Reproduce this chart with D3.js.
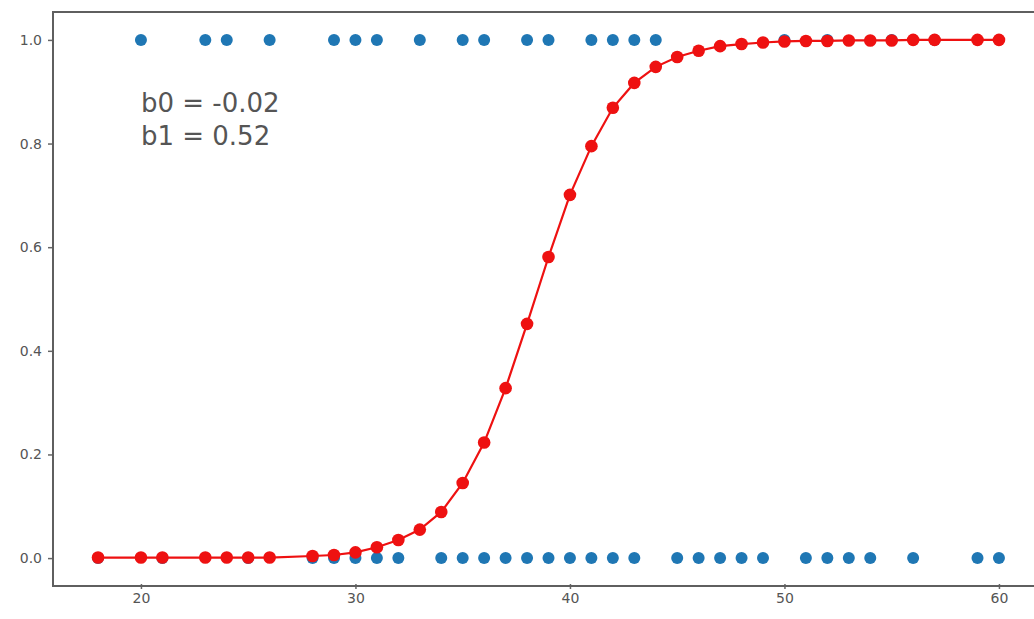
<!DOCTYPE html>
<meta charset="utf-8">
<style>
body { margin: 0; background: #fff; }
.axis path { display: none; }
.note { font-family: "DejaVu Sans", sans-serif; font-size: 26px; fill: #555; }
</style>
<svg width="1034" height="619"></svg>
<script src="https://d3js.org/d3.v7.min.js"></script>
<script>
// observed outcomes
var onesX = [20, 23, 24, 26, 29, 30, 31, 33, 35, 36, 38, 39, 41, 42, 43, 44, 50, 52, 55, 57];
var zerosX = [18, 21, 25, 28, 29, 30, 31, 32, 34, 35, 36, 37, 38, 39, 40, 41, 42, 43, 45, 46, 47, 48, 49, 51, 52, 53, 54, 56, 59, 60];

// fitted probabilities
var fitX = [18, 20, 21, 23, 24, 25, 26, 28, 29, 30, 31, 32, 33, 34, 35, 36, 37, 38, 39, 40,
            41, 42, 43, 44, 45, 46, 47, 48, 49, 50, 51, 52, 53, 54, 55, 56, 57, 59, 60];
var fitP = [0.001, 0.001, 0.001, 0.001, 0.001, 0.001, 0.001, 0.004, 0.006, 0.011, 0.021, 0.035, 0.055, 0.089, 0.145, 0.223, 0.328, 0.452, 0.581, 0.701,
            0.795, 0.869, 0.917, 0.948, 0.967, 0.979, 0.988, 0.992, 0.995, 0.997, 0.998, 0.998, 0.999, 0.999, 0.999, 1.0, 1.0, 1.0, 1.0];

var xTicks = [20, 30, 40, 50, 60];
var yTicks = [0, 0.2, 0.4, 0.6, 0.8, 1.0];
var noteLines = ["b0 = -0.02", "b1 = 0.52"];

var svg = d3.select("svg");
var mLeft = 53, mRight = 1044, mTop = 14, mBottom = 584;

var x = d3.scaleLinear().domain([15.9, 62.1]).range([mLeft, mRight]);
var y = d3.scaleLinear().domain([-0.05, 1.05]).range([mBottom, mTop]);

// axes
var xAxis = svg.append("g")
    .attr("class", "axis")
    .attr("transform", "translate(0," + mBottom + ")")
    .call(d3.axisBottom(x).tickValues(xTicks).tickSize(5).tickPadding(4).tickFormat(d3.format("d")));

var yAxis = svg.append("g")
    .attr("class", "axis")
    .attr("transform", "translate(" + mLeft + ",0)")
    .call(d3.axisLeft(y).tickValues(yTicks).tickSize(5).tickPadding(6).tickFormat(d3.format(".1f")));

[xAxis, yAxis].forEach(function(g) {
  g.attr("font-family", "DejaVu Sans, sans-serif").attr("font-size", 14);
  g.selectAll("text").attr("fill", "#555");
  g.selectAll("line").attr("stroke", "#666").attr("stroke-width", 1.5);
});

// blue scatter
var pts = onesX.map(function(d) { return {x: d, y: 1}; })
    .concat(zerosX.map(function(d) { return {x: d, y: 0}; }));

svg.append("g").selectAll("circle")
    .data(pts)
    .enter().append("circle")
    .attr("cx", function(d) { return x(d.x); })
    .attr("cy", function(d) { return y(d.y); })
    .attr("r", 6)
    .attr("fill", "#1f77b4");

// fitted curve
var fit = fitX.map(function(d, i) { return {x: d, p: fitP[i]}; });

svg.append("path")
    .datum(fit)
    .attr("fill", "none")
    .attr("stroke", "#ee1111")
    .attr("stroke-width", 2.2)
    .attr("d", d3.line().x(function(d) { return x(d.x); }).y(function(d) { return y(d.p); }));

svg.append("g").selectAll("circle")
    .data(fit)
    .enter().append("circle")
    .attr("cx", function(d) { return x(d.x); })
    .attr("cy", function(d) { return y(d.p); })
    .attr("r", 6.3)
    .attr("fill", "#ee1111");

// frame
svg.append("rect")
    .attr("x", mLeft)
    .attr("y", mTop - 2)
    .attr("width", mRight - mLeft)
    .attr("height", mBottom - mTop + 4)
    .attr("fill", "none")
    .attr("stroke", "#5f5f5f")
    .attr("stroke-width", 2);

// coefficients
svg.append("text")
    .attr("class", "note")
    .attr("x", x(20))
    .attr("y", 112)
  .selectAll("tspan")
    .data(noteLines)
    .enter().append("tspan")
    .attr("x", x(20))
    .attr("dy", function(d, i) { return i ? 33 : 0; })
    .text(function(d) { return d; });
</script>
